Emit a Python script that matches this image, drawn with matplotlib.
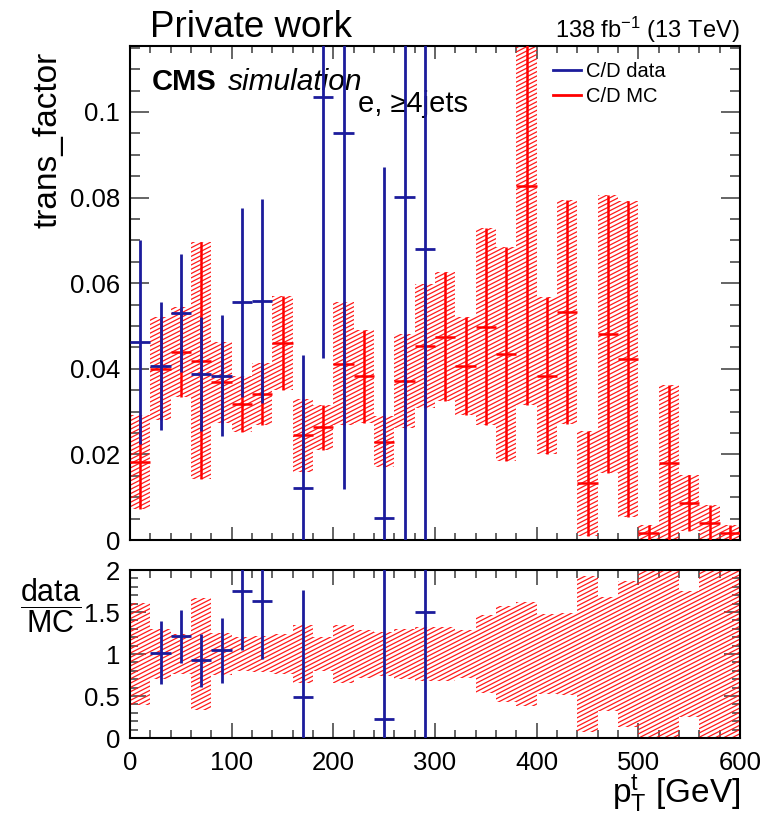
import numpy as np
import matplotlib
matplotlib.use("Agg")
import matplotlib.pyplot as plt
from matplotlib.path import Path
from matplotlib.patches import PathPatch
from matplotlib.collections import LineCollection
from matplotlib.lines import Line2D
from matplotlib.ticker import MultipleLocator, FuncFormatter

plt.rcParams['font.family'] = ['Liberation Sans', 'DejaVu Sans']
plt.rcParams['mathtext.fontset'] = 'custom'
plt.rcParams['mathtext.rm'] = 'Liberation Sans'
plt.rcParams['mathtext.it'] = 'Liberation Sans:italic'
plt.rcParams['mathtext.bf'] = 'Liberation Sans:bold'

# ---- binning: top-quark pT, 20 GeV bins from 0 to 600 GeV ----
bin_edges = np.arange(0, 601, 20)
bin_centers = 0.5 * (bin_edges[:-1] + bin_edges[1:])
half_width = 10.0

# ---- C/D transfer factor from simulation ----
mc_val = [0.0182, 0.0400, 0.0439, 0.0419, 0.0368, 0.0318, 0.0341, 0.0460,
          0.0245, 0.0263, 0.0412, 0.0382, 0.0230, 0.0372, 0.0453, 0.0475,
          0.0407, 0.0498, 0.0435, 0.0826, 0.0384, 0.0532, 0.0132, 0.0481,
          0.0423, 0.0017, 0.0180, 0.0087, 0.0040, 0.0017]
mc_err = [0.0110, 0.0120, 0.0106, 0.0277, 0.0094, 0.0065, 0.0073, 0.0110,
          0.0085, 0.0053, 0.0144, 0.0108, 0.0060, 0.0110, 0.0145, 0.0150,
          0.0114, 0.0230, 0.0250, 0.0510, 0.0184, 0.0262, 0.0123, 0.0324,
          0.0370, 0.0017, 0.0182, 0.0065, 0.0041, 0.0019]

# ---- C/D transfer factor from data (nan = empty bin) ----
nan = np.nan
data_val = [0.0463, 0.0406, 0.0531, 0.0388, 0.0384, 0.0555, 0.0558, nan,
            0.0121, 0.1036, 0.0950, nan, 0.0051, 0.0801, 0.0680, nan,
            nan, nan, nan, nan, nan, nan, nan, nan,
            nan, nan, nan, nan, nan, nan]
data_err = [0.0238, 0.0149, 0.0138, 0.0133, 0.0142, 0.0220, 0.0239, nan,
            0.0312, 0.0610, 0.0830, nan, 0.0820, 0.0850, 0.0750, nan,
            nan, nan, nan, nan, nan, nan, nan, nan,
            nan, nan, nan, nan, nan, nan]

mc_val = np.array(mc_val)
mc_err = np.array(mc_err)
data_val = np.array(data_val)
data_err = np.array(data_err)

BLUE = '#1c1c9c'
RED = '#ff0000'

FIG_W, FIG_H = 765, 819
fig = plt.figure(figsize=(FIG_W / 100, FIG_H / 100), dpi=100)

left, right = 130 / FIG_W, 740 / FIG_W
ax = fig.add_axes([left, 1 - 540 / FIG_H, right - left, (540 - 46) / FIG_H])
axr = fig.add_axes([left, 1 - 738 / FIG_H, right - left, (738 - 570) / FIG_H])


def hatch_band(axis, lo, hi, width_px, height_px, angle=27.0, step_px=4.3,
               color='#ff1a1a', lw=0.9):
    """Fill per-bin boxes [lo, hi] with shallow diagonal hatching."""
    verts, codes = [], []
    for x0, x1, a, b in zip(bin_edges[:-1], bin_edges[1:], lo, hi):
        if not (np.isfinite(a) and np.isfinite(b)):
            continue
        verts += [(x0, a), (x1, a), (x1, b), (x0, b), (x0, a)]
        codes += [Path.MOVETO, Path.LINETO, Path.LINETO, Path.LINETO, Path.CLOSEPOLY]
    clip = PathPatch(Path(verts, codes), transform=axis.transData,
                     facecolor='none', edgecolor='none')
    axis.add_patch(clip)
    slope = np.tan(np.radians(angle))
    offsets = np.arange(-width_px * slope, height_px + step_px, step_px)
    segs = [[(0, c / height_px), (1, (c + width_px * slope) / height_px)]
            for c in offsets]
    lc = LineCollection(segs, colors=color, linewidths=lw,
                        transform=axis.transAxes, zorder=2)
    axis.add_collection(lc)
    lc.set_clip_path(clip)


W_px = 610
H_top, H_bot = 494, 168

# ---------------- upper panel ----------------
hatch_band(ax, mc_val - mc_err, mc_val + mc_err, W_px, H_top)
ax.errorbar(bin_centers, mc_val, xerr=half_width, yerr=mc_err, fmt='none',
            ecolor=RED, elinewidth=1.8, capsize=0, zorder=3)
ax.errorbar(bin_centers, data_val, xerr=half_width, yerr=data_err, fmt='none',
            ecolor=BLUE, elinewidth=2.0, capsize=0, zorder=4)

ax.set_xlim(0, 600)
ax.set_ylim(0, 0.1154)
ax.set_xticklabels([])

# ---------------- ratio panel ----------------
ratio = data_val / mc_val
ratio_err = data_err / mc_val
shown = ratio <= 2.0
rel = mc_err / mc_val
hatch_band(axr, 1 - rel, 1 + rel, W_px, H_bot)
axr.errorbar(bin_centers[shown], ratio[shown], xerr=half_width,
             yerr=ratio_err[shown], fmt='none', ecolor=BLUE, elinewidth=2.0,
             capsize=0, zorder=4)
axr.set_xlim(0, 600)
axr.set_ylim(0, 2)

fmt = FuncFormatter(lambda v, p: '%g' % round(v, 4))

for a, ymaj, ymin, ylen, xlen in [(ax, 0.02, 0.005, (14, 7.5), (9.5, 5)),
                                   (axr, 0.5, 0.1, (11.5, 6), (11, 5.5))]:
    a.xaxis.set_major_locator(MultipleLocator(100))
    a.xaxis.set_minor_locator(MultipleLocator(20))
    a.yaxis.set_major_locator(MultipleLocator(ymaj))
    a.yaxis.set_minor_locator(MultipleLocator(ymin))
    a.yaxis.set_major_formatter(fmt)
    a.tick_params(which='both', direction='in', top=True, right=True,
                  color='#3a3a3a', width=1.1, labelsize=18.5)
    a.tick_params(axis='y', which='major', length=ylen[0], pad=7)
    a.tick_params(axis='y', which='minor', length=ylen[1])
    a.tick_params(axis='x', which='major', length=xlen[0], pad=9)
    a.tick_params(axis='x', which='minor', length=xlen[1])
    for s in a.spines.values():
        s.set_linewidth(1.5)
        s.set_color('black')

axr.xaxis.set_major_formatter(fmt)

# ---------------- legend ----------------
handles = [Line2D([], [], color=BLUE, lw=2.0), Line2D([], [], color=RED, lw=2.0)]
ax.legend(handles, ['C/D data', 'C/D MC'], loc='upper left',
          bbox_to_anchor=(0.693, 0.968), frameon=False, fontsize=14.5,
          handlelength=1.4, handletextpad=0.25, labelspacing=0.3,
          borderpad=0, borderaxespad=0)

# ---------------- labels ----------------
ax.text(0.036, 0.911, 'CMS', transform=ax.transAxes, fontsize=21,
        fontweight='bold', va='baseline', ha='left')
ax.text(0.160, 0.911, 'simulation', transform=ax.transAxes, fontsize=21.5,
        style='italic', va='baseline', ha='left')
ax.text(0.374, 0.866, 'e, ≥4jets', transform=ax.transAxes, fontsize=21,
        va='baseline', ha='left')

fig.text(150 / FIG_W, 1 - 37 / FIG_H, 'Private work', fontsize=26.5,
         va='baseline', ha='left')
fig.text(740 / FIG_W, 1 - 38 / FIG_H, r'138 fb$^{-1}$ (13 TeV)', fontsize=17,
         va='baseline', ha='right')

fig.text(48 / FIG_W, 1 - 52 / FIG_H, 'trans_factor', fontsize=24,
         rotation=90, va='top', ha='center')
fig.text(51 / FIG_W, 1 - 606 / FIG_H, r'$\dfrac{\mathrm{data}}{\mathrm{MC}}$',
         fontsize=22, va='center', ha='center')
fig.text(740 / FIG_W, 1 - 803 / FIG_H,
         r'$\mathrm{p}_{\mathrm{T}}^{\mathrm{t}}$ [GeV]', fontsize=24,
         va='baseline', ha='right')

fig.savefig('out.png', dpi=100)
